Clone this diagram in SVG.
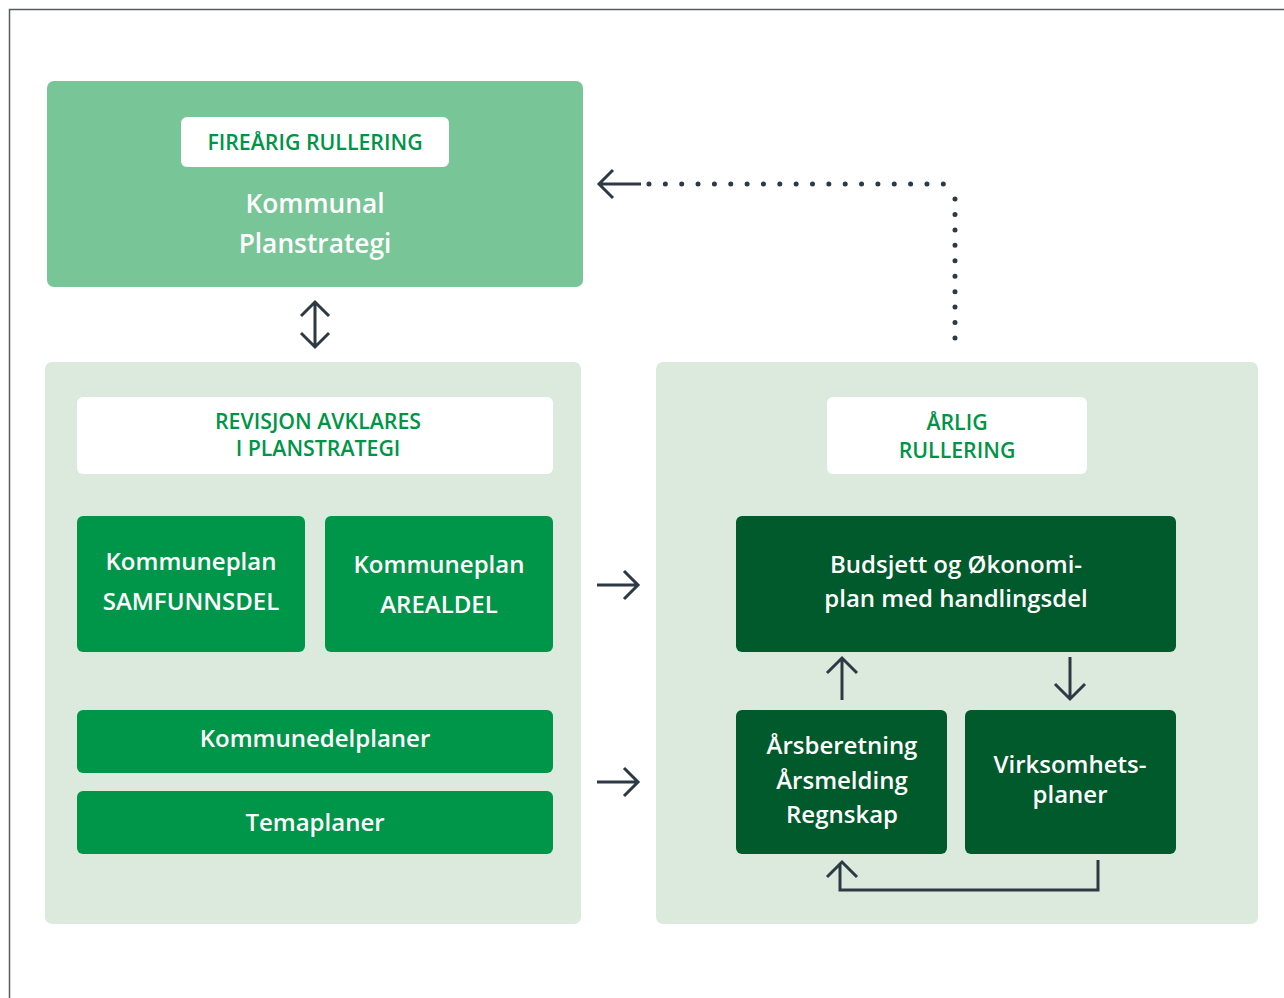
<svg xmlns="http://www.w3.org/2000/svg" width="1284" height="998" viewBox="0 0 1284 998">
<defs>
<style>
text{font-family:"Open Sans","Noto Sans","Liberation Sans",sans-serif;text-anchor:middle}
.lbl{fill:#009447;font-size:21.3px;font-weight:600}
.wt{fill:#ffffff;font-size:24px;font-weight:600}
.big{fill:#ffffff;font-size:26.3px;font-weight:600}
.con{fill:none;stroke:#2d3a45;stroke-width:3}
.dot{fill:none;stroke:#2d3a45;stroke-width:5;stroke-linecap:round}
</style>
</defs>
<rect x="0" y="0" width="1284" height="998" fill="#ffffff"/>
<path d="M9.5 998 V9.5 H1284" fill="none" stroke="#555b60" stroke-width="1.5"/>

<g id="planstrategi">
<rect x="47" y="81" width="536" height="206" rx="7" fill="#78c597"/>
<rect x="181" y="117" width="268" height="50" rx="6" fill="#ffffff"/>
<text class="lbl" x="315" y="150">FIREÅRIG RULLERING</text>
<text class="big" x="315" y="213">Kommunal</text>
<text class="big" x="315" y="253">Planstrategi</text>
</g>

<g id="left-panel">
<rect x="45" y="362" width="536" height="562" rx="7" fill="#dceadd"/>
<rect x="77" y="397" width="476" height="77" rx="6" fill="#ffffff"/>
<text class="lbl" x="318" y="429">REVISJON AVKLARES</text>
<text class="lbl" x="318" y="456">I PLANSTRATEGI</text>
</g>

<g id="samfunnsdel">
<rect x="77" y="516" width="228" height="136" rx="6" fill="#00964a"/>
<text class="wt" x="191" y="570">Kommuneplan</text>
<text class="wt" x="191" y="610">SAMFUNNSDEL</text>
</g>
<g id="arealdel">
<rect x="325" y="516" width="228" height="136" rx="6" fill="#00964a"/>
<text class="wt" x="439" y="573">Kommuneplan</text>
<text class="wt" x="439" y="613">AREALDEL</text>
</g>
<g id="kommunedelplaner">
<rect x="77" y="710" width="476" height="63" rx="6" fill="#00964a"/>
<text class="wt" x="315" y="747">Kommunedelplaner</text>
</g>
<g id="temaplaner">
<rect x="77" y="791" width="476" height="63" rx="6" fill="#00964a"/>
<text class="wt" x="315" y="831">Temaplaner</text>
</g>

<g id="right-panel">
<rect x="656" y="362" width="602" height="562" rx="7" fill="#dceadd"/>
<rect x="827" y="397" width="260" height="77" rx="6" fill="#ffffff"/>
<text class="lbl" x="957" y="430">ÅRLIG</text>
<text class="lbl" x="957" y="458">RULLERING</text>
</g>

<g id="budsjett">
<rect x="736" y="516" width="440" height="136" rx="6" fill="#005a2b"/>
<text class="wt" x="956" y="573">Budsjett og Økonomi-</text>
<text class="wt" x="956" y="607">plan med handlingsdel</text>
</g>
<g id="arsberetning">
<rect x="736" y="710" width="211" height="144" rx="6" fill="#005a2b"/>
<text class="wt" x="842" y="754">Årsberetning</text>
<text class="wt" x="842" y="789">Årsmelding</text>
<text class="wt" x="842" y="823">Regnskap</text>
</g>
<g id="virksomhetsplaner">
<rect x="965" y="710" width="211" height="144" rx="6" fill="#005a2b"/>
<text class="wt" x="1070" y="773">Virksomhets-</text>
<text class="wt" x="1070" y="803">planer</text>
</g>

<g id="connectors">
<path class="con" d="M315 302 V347 M301 316 L315 302 L329 316 M301 333 L315 347 L329 333"/>
<path class="con" d="M599 184 H641 M613 170 L599 184 L613 198"/>
<path class="dot" stroke-dasharray="0 16.35" d="M649 184 H955"/>
<path class="dot" stroke-dasharray="0 15.44" d="M955 199 V338"/>
<path class="con" d="M597 585 H638 M624 571 L638 585 L624 599"/>
<path class="con" d="M597 782 H638 M624 768 L638 782 L624 796"/>
<path class="con" d="M842 700 V658 M827 673 L842 658 L857 673"/>
<path class="con" d="M1070 657 V699 M1055 684 L1070 699 L1085 684"/>
<path class="con" d="M1098 860 V890 H840 V863 M827 877 L842 862 L857 877"/>
</g>
</svg>
